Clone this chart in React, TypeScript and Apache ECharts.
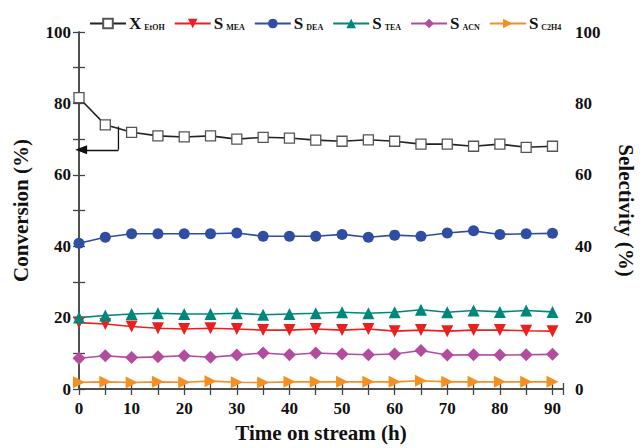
import React, { useEffect, useRef } from "react";
import * as echarts from "echarts";

const hours = [0, 5, 10, 15, 20, 25, 30, 35, 40, 45, 50, 55, 60, 65, 70, 75, 80, 85, 90];
const xEtOH = [81.6, 74.0, 71.9, 70.9, 70.6, 70.9, 70.0, 70.5, 70.3, 69.7, 69.4, 69.8, 69.4, 68.6, 68.6, 68.0, 68.6, 67.7, 68.0];
const sMEA = [18.6, 18.2, 17.5, 17.0, 16.8, 17.0, 16.8, 16.5, 16.5, 16.8, 16.5, 16.8, 16.2, 16.5, 16.2, 16.5, 16.5, 16.3, 16.2];
const sDEA = [40.8, 42.5, 43.5, 43.5, 43.5, 43.5, 43.7, 42.8, 42.8, 42.8, 43.3, 42.5, 43.1, 42.8, 43.7, 44.3, 43.3, 43.5, 43.6];
const sTEA = [20.0, 20.6, 21.0, 21.2, 21.0, 21.0, 21.2, 20.8, 21.0, 21.2, 21.5, 21.2, 21.5, 22.2, 21.5, 22.0, 21.6, 22.0, 21.6];
const sACN = [8.6, 9.3, 8.8, 9.0, 9.3, 8.9, 9.5, 10.1, 9.6, 10.1, 9.8, 9.6, 9.8, 10.8, 9.5, 9.6, 9.5, 9.6, 9.7];
const sC2H4 = [1.9, 2.0, 1.8, 2.0, 1.9, 2.2, 1.9, 1.8, 2.0, 2.0, 2.0, 2.0, 2.0, 2.3, 2.0, 2.0, 2.0, 2.0, 2.0];

const seriesNames = ["X_EtOH", "S_MEA", "S_DEA", "S_TEA", "S_ACN", "S_C2H4"];
const legendLabels: Record<string, string> = {
  X_EtOH: "{b|X}{s|EtOH}",
  S_MEA: "{b|S}{s|MEA}",
  S_DEA: "{b|S}{s|DEA}",
  S_TEA: "{b|S}{s|TEA}",
  S_ACN: "{b|S}{s|ACN}",
  S_C2H4: "{b|S}{s|C2H4}",
};

// arrow annotation (pointing to conversion axis)
const arrowVertical = [[7.5, 73.5], [7.5, 67]];
const arrowHorizontal = [[7.5, 67], [0.4, 67]];

const FONT = "'Liberation Serif', 'Times New Roman', serif";

const zip = (ys: number[]) => hours.map((h, i) => [h, ys[i]]);

export default function App() {
  const ref = useRef<HTMLDivElement>(null);
  useEffect(() => {
    if (!ref.current) return;
    const chart = echarts.init(ref.current, undefined, { renderer: "svg" });
    const axisLine = { show: true, lineStyle: { color: "#444", width: 1.5 } };
    const labelStyle = { color: "#111", fontFamily: FONT, fontWeight: "bold" as const, fontSize: 17 };
    const tick = { show: true, inside: true, length: 6, lineStyle: { color: "#444", width: 1.3 } };
    const mk = (
      name: string,
      data: number[],
      color: string,
      symbol: string,
      yAxisIndex: number,
      extra: any = {}
    ) => ({
      name,
      type: "line",
      data: zip(data),
      yAxisIndex,
      symbol,
      symbolSize: 11,
      lineStyle: { color, width: 1.6 },
      itemStyle: { color },
      z: 3,
      ...extra,
    });
    chart.setOption({
      animation: false,
      backgroundColor: "#fff",
      grid: { left: 79, right: 75, top: 32, bottom: 56 },
      legend: {
        data: seriesNames,
        left: 84,
        top: 10,
        itemWidth: 36,
        itemHeight: 12,
        itemGap: 9,
        formatter: (n: string) => legendLabels[n],
        textStyle: {
          fontFamily: FONT,
          padding: [0, 0, 0, -2],
          rich: {
            b: { fontFamily: FONT, fontWeight: "bold", fontSize: 17, color: "#111", lineHeight: 20 },
            s: { fontFamily: FONT, fontWeight: "bold", fontSize: 8, color: "#111", padding: [8, 0, 0, 3], lineHeight: 20 },
          },
        },
      },
      xAxis: [
        {
          type: "value",
          min: 0,
          max: 92,
          interval: 5,
          position: "bottom",
          axisLine,
          axisTick: tick,
          axisLabel: {
            ...labelStyle,
            margin: 11,
            formatter: (v: number) => (v % 10 === 0 && v <= 90 ? String(v) : ""),
          },
          splitLine: { show: false },
          name: "Time on stream (h)",
          nameLocation: "middle",
          nameGap: 33,
          nameTextStyle: { color: "#111", fontFamily: FONT, fontWeight: "bold", fontSize: 21 },
        },
        {
          type: "value",
          min: 0,
          max: 92,
          interval: 5,
          position: "top",
          axisLine,
          axisTick: tick,
          axisLabel: { show: false },
          splitLine: { show: false },
        },
      ],
      yAxis: [
        {
          type: "value",
          min: 0,
          max: 100,
          interval: 10,
          position: "left",
          axisLine,
          axisTick: tick,
          axisLabel: { ...labelStyle, margin: 8, formatter: (v: number) => (v % 20 === 0 ? String(v) : "") },
          splitLine: { show: false },
          name: "Conversion (%)",
          nameLocation: "middle",
          nameGap: 48,
          nameRotate: 90,
          nameTextStyle: { color: "#111", fontFamily: FONT, fontWeight: "bold", fontSize: 21 },
        },
        {
          type: "value",
          min: 0,
          max: 100,
          interval: 10,
          position: "right",
          axisLine,
          axisTick: tick,
          axisLabel: { ...labelStyle, margin: 12, formatter: (v: number) => (v % 20 === 0 ? String(v) : "") },
          splitLine: { show: false },
          name: "Selectivity (%)",
          nameLocation: "middle",
          nameGap: 52,
          nameRotate: -90,
          nameTextStyle: { color: "#111", fontFamily: FONT, fontWeight: "bold", fontSize: 21 },
        },
      ],
      series: [
        mk("X_EtOH", xEtOH, "#222", "rect", 0, {
          symbolSize: 10,
          itemStyle: { color: "#fff", borderColor: "#555", borderWidth: 1.3 },
          lineStyle: { color: "#222", width: 1.6 },
          z: 4,
        }),
        mk("S_MEA", sMEA, "#e8201f", "triangle", 1, { symbolRotate: 180, symbolSize: 12 }),
        mk("S_DEA", sDEA, "#2f4ea2", "circle", 1),
        mk("S_TEA", sTEA, "#00877b", "triangle", 1, { symbolSize: 12 }),
        mk("S_ACN", sACN, "#b24c9f", "diamond", 1, { symbolSize: 13 }),
        mk("S_C2H4", sC2H4, "#f5901f", "triangle", 1, { symbolRotate: -90, symbolSize: 12 }),
        {
          name: "arrow",
          type: "line",
          data: arrowVertical,
          yAxisIndex: 0,
          showSymbol: false,
          symbol: "none",
          lineStyle: { color: "#111", width: 1.3 },
          silent: true,
          z: 2,
          markLine: {
            silent: true,
            symbol: ["none", "triangle"],
            symbolSize: [9, 12],
            label: { show: false },
            lineStyle: { color: "#111", width: 1.3, type: "solid" },
            data: [[{ coord: arrowHorizontal[0] }, { coord: arrowHorizontal[1] }]],
          },
        },
      ],
    });
    return () => chart.dispose();
  }, []);
  return (
    <div
      ref={ref}
      style={{ position: "absolute", left: 0, top: 0, width: 644, height: 448 }}
    />
  );
}
